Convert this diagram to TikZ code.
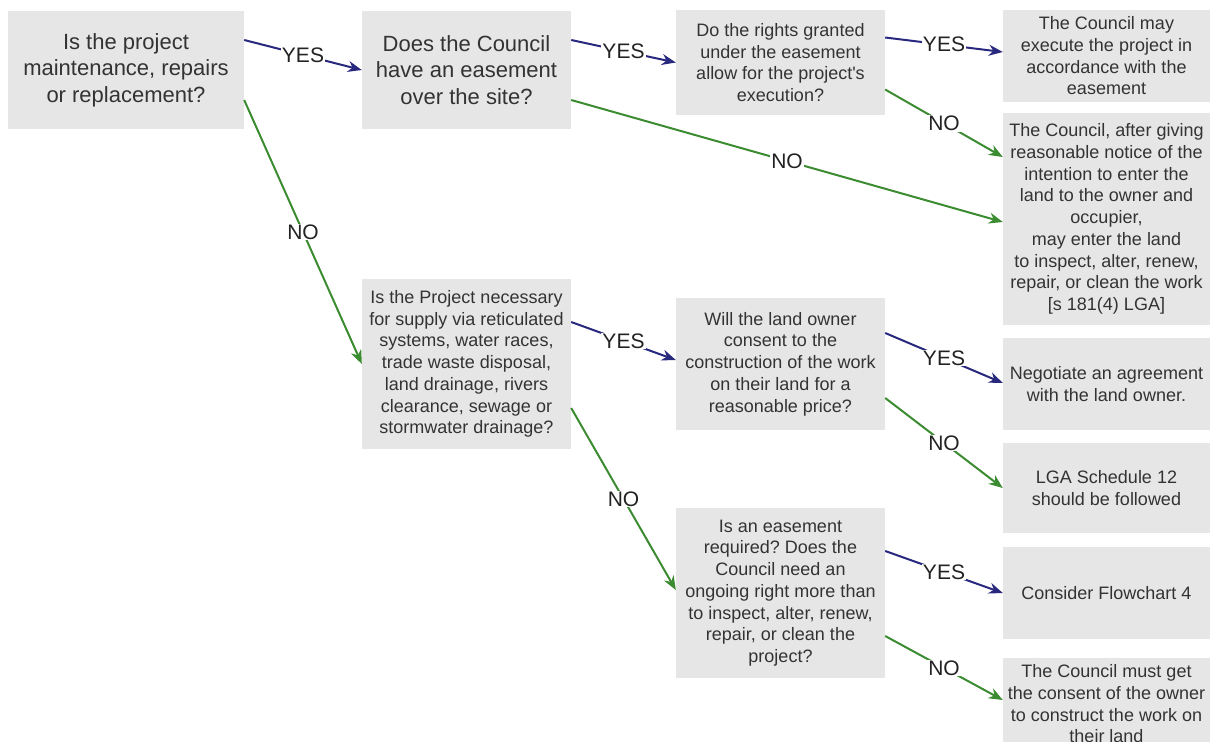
\documentclass[tikz,border=0pt]{standalone}
\usepackage{fontspec}
\setmainfont{Liberation Sans}
\usetikzlibrary{arrows.meta}
\frenchspacing
\definecolor{boxfill}{HTML}{E6E6E6}
\definecolor{boxtext}{HTML}{333333}
\definecolor{lbltext}{HTML}{222222}
\definecolor{yescol}{HTML}{28287E}
\definecolor{nocol}{HTML}{3B8B30}
\tikzset{
  box/.style={fill=boxfill, text=boxtext, align=center, inner sep=0pt,
    minimum width=207pt, font=\fontsize{18}{21.7}\selectfont},
  bigbox/.style={box, font=\fontsize{22}{26.5}\selectfont},
  link/.style={line width=2pt, -{Stealth[length=14pt,width=11pt]}},
  yesarrow/.style={link, draw=yescol},
  noarrow/.style={link, draw=nocol},
  lbl/.style={midway, fill=white, inner sep=1pt, text=lbltext,
    font=\fontsize{21}{24}\selectfont},
}
\begin{document}
\begin{tikzpicture}[x=1pt, y=-1pt]
  \useasboundingbox (0,0) rectangle (1211,742);
  \clip (0,0) rectangle (1211,742);

  % first column
  \node[bigbox, minimum width=236pt, minimum height=118pt] (A) at (126,70)
    {Is the project\\maintenance, repairs\\or replacement?};

  % second column
  \node[bigbox, minimum width=209pt, minimum height=118pt] (B) at (466.5,70)
    {Does the Council\\have an easement\\over the site?};
  \node[box, minimum width=209pt, minimum height=170pt] (F) at (466.5,364)
    {Is the Project necessary\\for supply via reticulated\\systems, water races,\\trade waste disposal,\\land drainage, rivers\\clearance, sewage or\\stormwater drainage?};

  % third column
  \node[box, minimum width=209pt, minimum height=105pt] (C) at (780.5,62.5)
    {Do the rights granted\\under the easement\\allow for the project\textquotesingle s\\execution?};
  \node[box, minimum width=209pt, minimum height=132pt] (G) at (780.5,364)
    {Will the land owner\\consent to the\\construction of the work\\on their land for a\\reasonable price?};
  \node[box, minimum width=209pt, minimum height=170pt] (J) at (780.5,593)
    {Is an easement\\required? Does the\\Council need an\\ongoing right more than\\to inspect, alter, renew,\\repair, or clean the\\project?};

  % outcomes
  \node[box, minimum height=92pt] (D) at (1106.5,56)
    {The Council may\\execute the project in\\accordance with the\\easement};
  \node[box, minimum height=212pt] (E) at (1106.5,219)
    {The Council, after giving\\reasonable notice of the\\intention to enter the\\land to the owner and\\occupier,\\may enter the land\\to inspect, alter, renew,\\repair, or clean the work\\{}[s 181(4) LGA]};
  \node[box, minimum height=92pt] (H) at (1106.5,384)
    {Negotiate an agreement\\with the land owner.};
  \node[box, minimum height=90pt] (I) at (1106.5,488)
    {LGA Schedule 12\\should be followed};
  \node[box, minimum height=92pt] (K) at (1106.5,593)
    {Consider Flowchart 4};
  \node[box, minimum height=92pt] (L) at (1106.5,704)
    {The Council must get\\the consent of the owner\\to construct the work on\\their land};

  % connectors
  \draw[yesarrow] ([yshift=30pt]A.east) -- (B.west) node[lbl] {YES};
  \draw[noarrow] ([yshift=-30pt]A.east) -- (F.west) node[lbl] {NO};
  \draw[yesarrow] ([yshift=30pt]B.east) -- (C.west) node[lbl] {YES};
  \draw[noarrow] ([yshift=-30pt]B.east) -- ([yshift=-3pt]E.west) node[lbl] {NO};
  \draw[yesarrow] ([yshift=25pt]C.east) -- ([yshift=4pt]D.west) node[lbl] {YES};
  \draw[noarrow] ([yshift=-27pt]C.east) -- ([yshift=62pt]E.west) node[lbl] {NO};
  \draw[yesarrow] ([yshift=42pt]F.east) -- ([yshift=4pt]G.west) node[lbl] {YES};
  \draw[noarrow] ([yshift=-44pt]F.east) -- ([yshift=3pt]J.west) node[lbl] {NO};
  \draw[yesarrow] ([yshift=31pt]G.east) -- ([yshift=1pt]H.west) node[lbl] {YES};
  \draw[noarrow] ([yshift=-34pt]G.east) -- (I.west) node[lbl] {NO};
  \draw[yesarrow] ([yshift=42pt]J.east) -- (K.west) node[lbl] {YES};
  \draw[noarrow] ([yshift=-43pt]J.east) -- ([yshift=4pt]L.west) node[lbl] {NO};
\end{tikzpicture}
\end{document}
